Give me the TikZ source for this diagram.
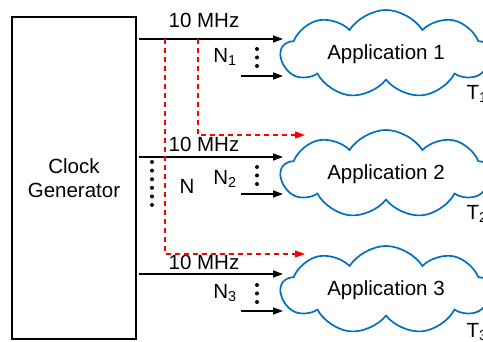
\documentclass[tikz,border=0pt]{standalone}
\usepackage{fontspec}
\setmainfont{Liberation Sans}
\usepackage{xcolor}
\definecolor{cloudblue}{RGB}{0,112,192}
\usetikzlibrary{shapes.symbols, arrows.meta, positioning}

\begin{document}
\begin{tikzpicture}[
    x=1pt, y=-1pt,
    font=\fontsize{20.5}{24}\selectfont,
    gen/.style={draw, line width=1.3pt, minimum width=124pt, minimum height=322pt, align=center},
    app/.style={cloud, cloud puffs=9, cloud puff arc=115, cloud ignores aspect, draw=cloudblue, line width=1.7pt, minimum width=210pt, minimum height=88pt, inner sep=0pt},
    lbl/.style={inner sep=0pt},
    arr/.style={-{Triangle[length=10pt,width=7pt]}, line width=1.4pt},
    sync/.style={-{Triangle[length=10pt,width=7pt]}, red, dash pattern=on 5pt off 4pt, line width=1.2pt}
]
\clip (0,0) rectangle (483,342);

\node[gen] (clk) at (74,178) {Clock\\Generator};

\node[app] (app1) at (386,54) {Application 1};
\node[app] (app2) at (386,174) {Application 2};
\node[app] (app3) at (386,290) {Application 3};

% clock outputs
\coordinate (s1) at (139,39);  \coordinate (e1) at (283,39);
\coordinate (s2) at (139,157); \coordinate (e2) at (283,157);
\coordinate (s3) at (139,274); \coordinate (e3) at (283,274);
\draw[arr] (s1) -- (e1);
\draw[arr] (s2) -- (e2);
\draw[arr] (s3) -- (e3);

\node[lbl] (f1) at (204,20) {10 MHz};
\node[lbl] (f2) at (204,144) {10 MHz};
\node[lbl] (f3) at (204,262) {10 MHz};

% further inputs
\coordinate (n1) at (241,76);  \coordinate (m1) at (283,76);
\coordinate (n2) at (241,194); \coordinate (m2) at (283,194);
\coordinate (n3) at (241,311); \coordinate (m3) at (283,311);
\draw[arr] (n1) -- (m1);
\draw[arr] (n2) -- (m2);
\draw[arr] (n3) -- (m3);

\node[lbl] (N1) at (225,57) {N\textsubscript{1}};
\node[lbl] (N2) at (225,179) {N\textsubscript{2}};
\node[lbl] (N3) at (225,293) {N\textsubscript{3}};
\node[lbl] (N) at (187,186) {N};

\foreach \y in {49,57.5,66, 167,175.5,184, 285,293.5,302}
  \fill (257,\y) circle (2pt);
\foreach \y in {162,170.6,179.2,187.8,196.4,205}
  \fill (152,\y) circle (2pt);

% synchronisation taps
\coordinate (tA) at (165,39); \coordinate (cA) at (165,254); \coordinate (dA) at (305,254);
\coordinate (tB) at (198,39); \coordinate (cB) at (198,135); \coordinate (dB) at (305,135);
\draw[sync] (tA) -- (cA) -- (dA);
\draw[sync] (tB) -- (cB) -- (dB);

\node[lbl] (T1) at (477,94) {T\textsubscript{1}};
\node[lbl] (T2) at (477,214) {T\textsubscript{2}};
\node[lbl] (T3) at (477,332) {T\textsubscript{3}};

\end{tikzpicture}
\end{document}
